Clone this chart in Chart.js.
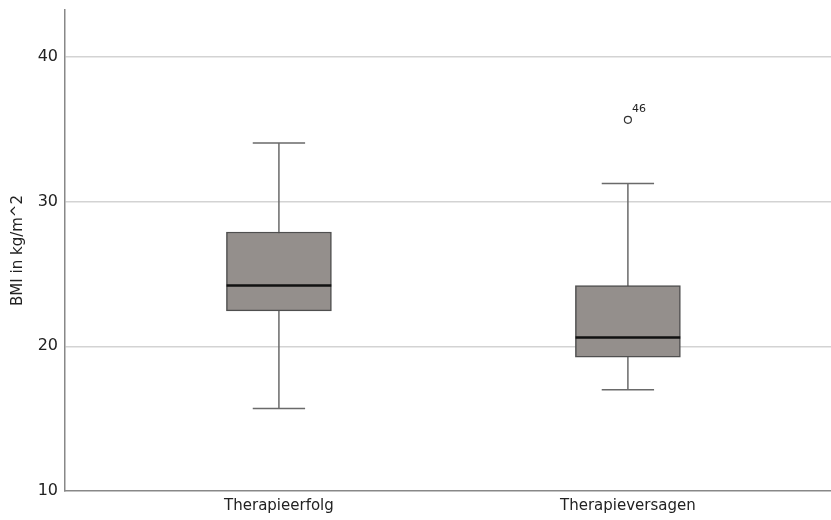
<!DOCTYPE html>
<html>
<head>
<meta charset="utf-8">
<script src="https://cdn.jsdelivr.net/npm/chart.js@4"></script>
<style>
  body { margin: 0; background: #fff; }
  canvas { display: block; }
</style>
</head>
<body>
<canvas id="bmi-chart" width="831" height="520"></canvas>
<script>
// Boxplot data (BMI per group)
const categories = ['Therapieerfolg', 'Therapieversagen'];
const whiskerLow = [15.7, 17.0];
const q1 = [22.45, 19.25];
const median = [24.2, 20.6];
const q3 = [27.9, 24.2];
const whiskerHigh = [34.05, 31.25];
// outliers: group index, value, case label
const outlierGroup = [1];
const outlierValue = [35.65];
const outlierLabel = ['46'];
const yTicks = [10, 20, 30, 40];

const FONT = '"DejaVu Sans", sans-serif';

// whiskers + median lines, drawn through the chart's scales
const boxPlotLines = {
  id: 'boxPlotLines',
  beforeDatasetsDraw(chart) {
    const ctx = chart.ctx, xs = chart.scales.x, ys = chart.scales.y;
    ctx.save();
    ctx.strokeStyle = '#6a6a6a';
    ctx.lineWidth = 1.5;
    categories.forEach(function(c, i) {
      const xc = xs.getPixelForValue(i + 1);
      const xl = xs.getPixelForValue(i + 1 - 0.075);
      const xr = xs.getPixelForValue(i + 1 + 0.075);
      ctx.beginPath();
      ctx.moveTo(xc, ys.getPixelForValue(whiskerLow[i]));
      ctx.lineTo(xc, ys.getPixelForValue(whiskerHigh[i]));
      ctx.moveTo(xl, ys.getPixelForValue(whiskerLow[i]));
      ctx.lineTo(xr, ys.getPixelForValue(whiskerLow[i]));
      ctx.moveTo(xl, ys.getPixelForValue(whiskerHigh[i]));
      ctx.lineTo(xr, ys.getPixelForValue(whiskerHigh[i]));
      ctx.stroke();
    });
    ctx.restore();
  },
  afterDatasetsDraw(chart) {
    const ctx = chart.ctx, xs = chart.scales.x, ys = chart.scales.y;
    ctx.save();
    ctx.strokeStyle = '#111';
    ctx.lineWidth = 2.5;
    categories.forEach(function(c, i) {
      const y = ys.getPixelForValue(median[i]);
      ctx.beginPath();
      ctx.moveTo(xs.getPixelForValue(i + 1 - 0.15), y);
      ctx.lineTo(xs.getPixelForValue(i + 1 + 0.15), y);
      ctx.stroke();
    });
    // outlier case labels
    ctx.fillStyle = '#222';
    ctx.font = '11px ' + FONT;
    ctx.textAlign = 'left';
    ctx.textBaseline = 'middle';
    outlierValue.forEach(function(v, k) {
      const x = xs.getPixelForValue(outlierGroup[k] + 1);
      const y = ys.getPixelForValue(v);
      ctx.fillText(outlierLabel[k], x + 4, y - 11);
    });
    ctx.restore();
  }
};

new Chart(document.getElementById('bmi-chart'), {
  type: 'bar',
  data: {
    datasets: [{
      label: 'Box',
      data: categories.map(function(c, i) { return { x: i + 1, y: [q1[i], q3[i]] }; }),
      backgroundColor: '#948f8c',
      borderColor: '#4f4f4f',
      borderWidth: 1.5,
      borderSkipped: false,
      barThickness: 105
    }, {
      type: 'scatter',
      label: 'Ausreißer',
      data: outlierValue.map(function(v, k) { return { x: outlierGroup[k] + 1, y: v }; }),
      pointStyle: 'circle',
      pointRadius: 3.5,
      backgroundColor: '#fff',
      borderColor: '#333',
      borderWidth: 1.2
    }]
  },
  options: {
    responsive: false,
    animation: false,
    layout: { autoPadding: false, padding: { top: 10, right: 0, left: 0, bottom: 0 } },
    plugins: {
      legend: { display: false },
      tooltip: { enabled: false }
    },
    scales: {
      x: {
        type: 'linear',
        offset: false,
        min: 0.387,
        max: 2.582,
        grid: { display: false, drawTicks: false },
        border: { color: '#888', width: 1.5 },
        afterBuildTicks: function(scale) {
          scale.ticks = categories.map(function(c, i) { return { value: i + 1 }; });
        },
        afterFit: function(scale) {
          scale.height = 29;
          scale.paddingLeft = 0;
          scale.paddingRight = 0;
        },
        ticks: {
          autoSkip: false,
          maxRotation: 0,
          padding: 6,
          color: '#222',
          font: { family: FONT, size: 15 },
          callback: function(v) { return categories[v - 1]; }
        }
      },
      y: {
        min: 10,
        max: 43.24,
        afterBuildTicks: function(scale) {
          scale.ticks = yTicks.map(function(v) { return { value: v }; });
        },
        afterFit: function(scale) {
          scale.width = 65;
          scale.paddingTop = 0;
          scale.paddingBottom = 0;
        },
        grid: {
          drawTicks: false,
          lineWidth: 1.5,
          color: function(ctx) { return ctx.tick && ctx.tick.value === 10 ? 'rgba(0,0,0,0)' : '#d3d3d3'; }
        },
        border: { color: '#888', width: 1.5 },
        ticks: {
          padding: 7,
          color: '#222',
          font: { family: FONT, size: 16 }
        },
        title: {
          display: true,
          text: 'BMI in kg/m^2',
          color: '#222',
          padding: { top: 9, bottom: 0 },
          font: { family: FONT, size: 15 }
        }
      }
    }
  },
  plugins: [boxPlotLines]
});
</script>
</body>
</html>
